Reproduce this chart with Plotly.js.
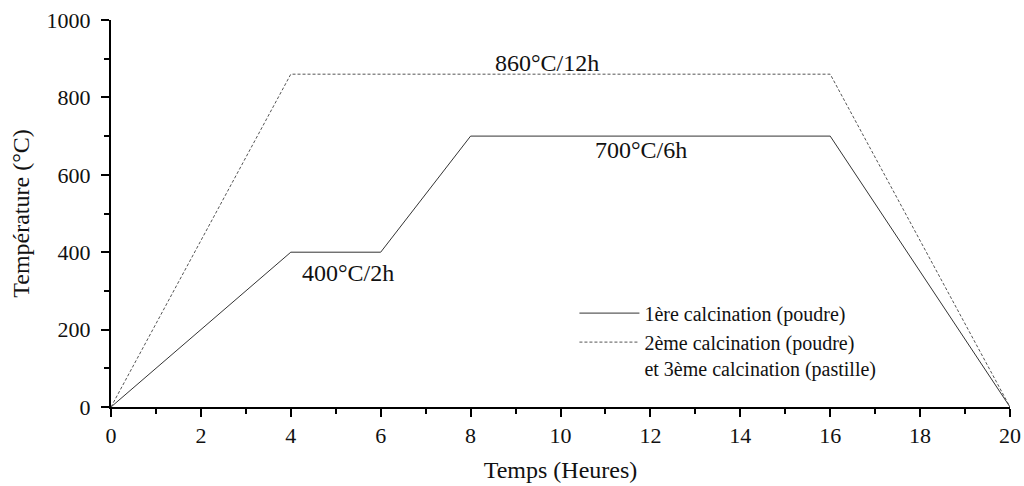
<!DOCTYPE html>
<html>
<head>
<meta charset="utf-8">
<script src="https://cdn.plot.ly/plotly-3.0.1.min.js"></script>
<style>html,body{margin:0;padding:0;background:#fff;}#chart{width:1024px;height:486px;}</style>
</head>
<body>
<div id="chart"></div>
<script>
const hours1 = [0, 4, 6, 8, 16, 20];
const temps1 = [0, 400, 400, 700, 700, 0];
const hours2 = [0, 4, 16, 20];
const temps2 = [0, 860, 860, 0];
const seriesNames = ["1ère calcination (poudre)", "2ème calcination (poudre)<br>et 3ème calcination (pastille)"];
const labelTexts = ["860°C/12h", "700°C/6h", "400°C/2h"];
const labelX = [9.7, 11.8, 5.28];
const labelY = [890, 665, 346];

const font = "'Liberation Serif', serif";
const traces = [
  {x: hours1, y: temps1, mode: "lines", name: seriesNames[0],
   line: {color: "#333", width: 1}},
  {x: hours2, y: temps2, mode: "lines", name: seriesNames[1],
   line: {color: "#555", width: 1, dash: "3px,2px"}}
];
const layout = {
  width: 1024, height: 486,
  margin: {l: 111, r: 14, t: 20, b: 79},
  paper_bgcolor: "#fff", plot_bgcolor: "#fff",
  font: {family: font, size: 22, color: "#111"},
  showlegend: true,
  legend: {x: 0.5155, y: 0.293, xanchor: "left", yanchor: "top", valign: "top",
    itemwidth: 60,
    bgcolor: "rgba(0,0,0,0)", font: {family: font, size: 20, color: "#111"},
    tracegroupgap: 0},
  xaxis: {range: [0, 20], dtick: 2, showline: true, linewidth: 2, linecolor: "#000",
    ticks: "outside", ticklen: 8, tickwidth: 2, tickcolor: "#000",
    tickfont: {family: font, size: 22, color: "#111"}, ticklabelstandoff: 0,
    minor: {ticks: "outside", ticklen: 5, tickwidth: 2, dtick: 1, tickcolor: "#000"},
    showgrid: false, zeroline: false,
    title: {text: "Temps (Heures)", font: {family: font, size: 24}, standoff: 14}},
  yaxis: {range: [0, 1000], dtick: 200, showline: true, linewidth: 2, linecolor: "#000",
    ticks: "outside", ticklen: 8, tickwidth: 2, tickcolor: "#000",
    tickfont: {family: font, size: 22, color: "#111"}, ticklabelstandoff: 6,
    minor: {ticks: "outside", ticklen: 5, tickwidth: 2, dtick: 100, tickcolor: "#000"},
    showgrid: false, zeroline: false,
    title: {text: "Température (°C)", font: {family: font, size: 24}, standoff: 10}},
  annotations: labelTexts.map((t, i) => ({x: labelX[i], y: labelY[i], text: t,
    showarrow: false, font: {family: font, size: 24, color: "#111"}}))
};
Plotly.newPlot("chart", traces, layout, {displayModeBar: false, staticPlot: true});
</script>
</body>
</html>
